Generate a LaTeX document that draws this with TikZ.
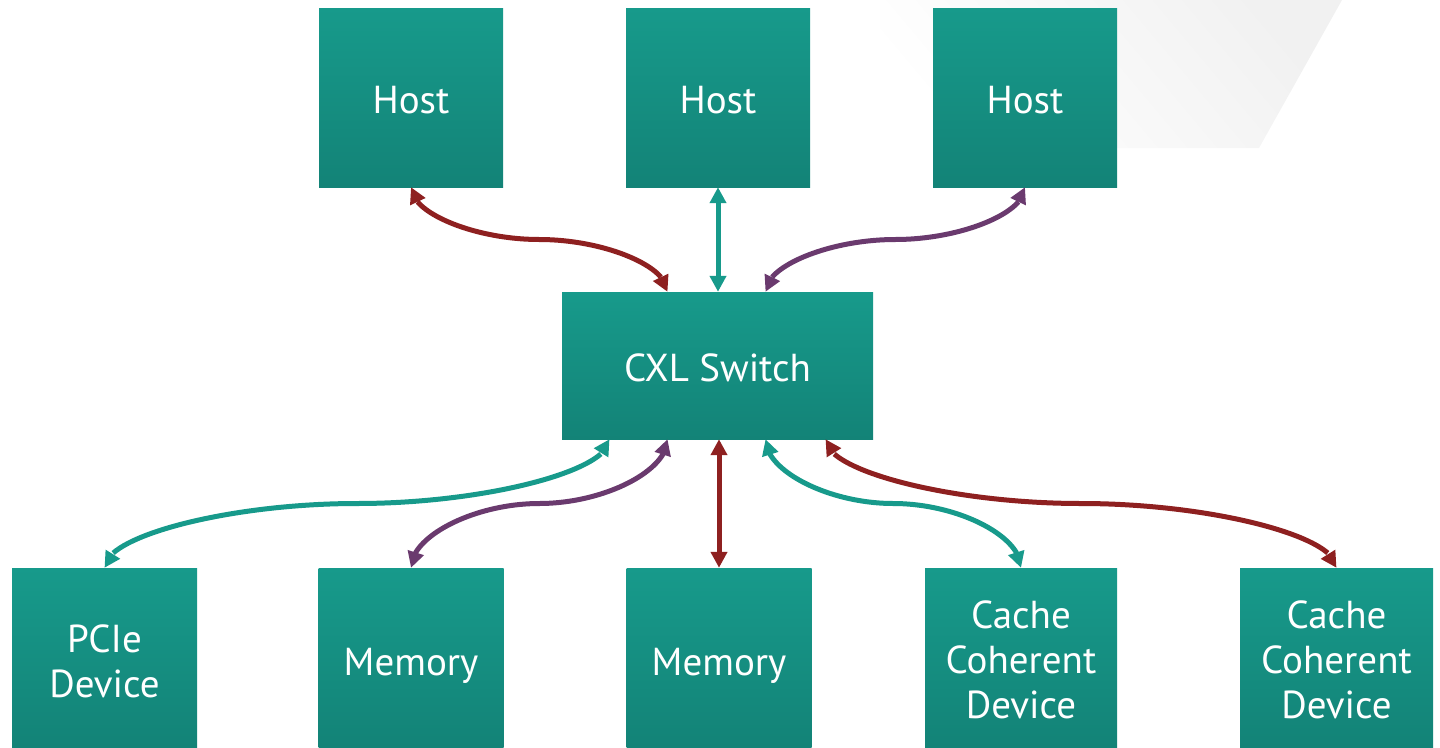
\documentclass[tikz,border=0pt]{standalone}
\usepackage{fontspec}
\setmainfont{PT Sans}
\usetikzlibrary{arrows.meta,bending,calc}
\definecolor{boxtop}{HTML}{179A8B}
\definecolor{boxbot}{HTML}{138377}
\definecolor{linkred}{HTML}{8E2020}
\definecolor{linkteal}{HTML}{179A8B}
\definecolor{linkpurple}{HTML}{6A3A6E}
% invisible strut that sets the height of a label's first line
\newcommand\lead[1]{\rule{0pt}{#1pt}}
\begin{document}
\begin{tikzpicture}[x=1pt,y=-1pt,
  unit/.style={top color=boxtop,bottom color=boxbot,draw=none,text=white,
    align=center,inner sep=0pt,font=\fontsize{39}{45}\selectfont},
  host/.style={unit,minimum width=184pt,minimum height=179pt},
  leaf/.style={unit,minimum width=185pt,minimum height=179pt},
  link/.style={line width=5pt,
    {Triangle[flex,length=16pt,width=16pt]}-{Triangle[flex,length=16pt,width=16pt]}}]
\useasboundingbox (0,0) rectangle (1440,747);

% faint backdrop panel, upper right
\shade[top color=gray!11,bottom color=white,shading angle=-50]
  (880,0) -- (1342,0) -- (1259,148) -- (880,148) -- cycle;

% hosts
\node[host] (h1) at (411,97.5) {\lead{32}Host};
\node[host] (h2) at (718,97.5) {\lead{32}Host};
\node[host] (h3) at (1025,97.5) {\lead{32}Host};

% switch
\node[unit,minimum width=311pt,minimum height=147pt] (cxl) at (717.5,365.5) {\lead{33}CXL Switch};

% attached devices
\node[leaf] (pcie) at (104.5,657.5) {\lead{35}PCIe\\Device};
\node[leaf] (m1) at (411,657.5) {\lead{43}Memory};
\node[leaf] (m2) at (719,657.5) {\lead{43}Memory};
\node[leaf,minimum width=192pt] (c1) at (1021,657.5) {\lead{33}Cache\\Coherent\\Device};
\node[leaf,minimum width=193pt] (c2) at (1336.5,657.5) {\lead{33}Cache\\Coherent\\Device};

% switch ports
\coordinate (up1) at ([xshift=-50pt]cxl.north);
\coordinate (up3) at ([xshift=48pt]cxl.north);
\coordinate (dn1) at ([xshift=-108pt]cxl.south);
\coordinate (dn2) at ([xshift=-50pt]cxl.south);
\coordinate (dn4) at ([xshift=48pt]cxl.south);
\coordinate (dn5) at ([xshift=108pt]cxl.south);

% host links
\draw[link,linkred] (h1.south) .. controls +(0,26) and +(-64,0) .. ($(h1.south)!.5!(up1)$)
  .. controls +(64,0) and +(0,-26) .. (up1);
\draw[link,linkteal] (h2.south) -- (h2.south |- cxl.north);
\draw[link,linkpurple] (h3.south) .. controls +(0,26) and +(65,0) .. ($(h3.south)!.5!(up3)$)
  .. controls +(-65,0) and +(0,-26) .. (up3);

% device links
\draw[link,linkteal] (dn1) .. controls +(0,32) and +(126,0) .. ($(dn1)!.5!(pcie.north)$)
  .. controls +(-126,0) and +(0,-32) .. (pcie.north);
\draw[link,linkpurple] (dn2) .. controls +(0,32) and +(64,0) .. ($(dn2)!.5!(m1.north)$)
  .. controls +(-64,0) and +(0,-32) .. (m1.north);
\draw[link,linkred] (m2.north |- cxl.south) -- (m2.north);
\draw[link,linkteal] (dn4) .. controls +(0,32) and +(-64,0) .. ($(dn4)!.5!(c1.north)$)
  .. controls +(64,0) and +(0,-32) .. (c1.north);
\draw[link,linkred] (dn5) .. controls +(0,32) and +(-128,0) .. ($(dn5)!.5!(c2.north)$)
  .. controls +(128,0) and +(0,-32) .. (c2.north);
\end{tikzpicture}
\end{document}
